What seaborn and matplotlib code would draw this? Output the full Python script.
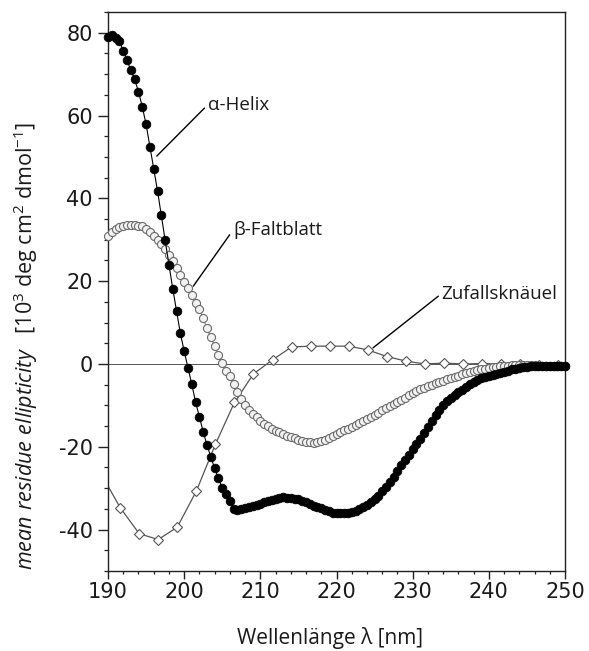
import numpy as np
import pandas as pd
import matplotlib
matplotlib.use("Agg")
import matplotlib.pyplot as plt
from matplotlib.ticker import MultipleLocator
import seaborn as sns

# Wavelength grid of the CD spectra (nm), 0.5 nm steps
wavelength = np.arange(190.0, 250.25, 0.5)

# mean residue ellipticity (10^3 deg cm^2 dmol^-1)
alpha_helix = [
    79.0, 79.4, 78.8, 77.9, 75.6, 73.4, 70.9, 68.7, 65.8, 62.1,
    57.9, 52.5, 47.2, 41.8, 35.9, 29.9, 24.0, 18.2, 12.8, 7.4,
    3.1, -0.9, -4.9, -9.2, -12.8, -16.4, -19.6, -22.4, -25.2, -27.6,
    -29.9, -31.5, -33.1, -35.0, -35.2, -35.0, -34.8, -34.5, -34.3, -34.0,
    -33.8, -33.4, -33.1, -32.8, -32.5, -32.3, -32.2, -32.3, -32.4, -32.5,
    -32.7, -33.0, -33.4, -33.8, -34.2, -34.6, -34.9, -35.3, -35.6, -35.9,
    -36.0, -36.1, -36.0, -35.9, -35.7, -35.4, -35.1, -34.6, -34.0, -33.3,
    -32.6, -31.8, -30.8, -29.7, -28.5, -27.2, -25.8, -24.5, -23.3, -22.0,
    -20.6, -19.4, -18.2, -16.7, -15.2, -13.7, -12.3, -11.0, -9.9, -9.0,
    -8.2, -7.5, -6.8, -6.2, -5.5, -4.9, -4.3, -3.8, -3.4, -3.1,
    -2.8, -2.6, -2.4, -2.2, -1.9, -1.6, -1.3, -1.1, -0.9, -0.8,
    -0.7, -0.6, -0.5, -0.5, -0.5, -0.5, -0.5, -0.5, -0.6, -0.6,
    -0.6,
]

beta_sheet = [
    30.9, 31.9, 32.7, 33.1, 33.3, 33.5, 33.5, 33.5, 33.4, 33.2,
    32.7, 31.8, 30.8, 29.9, 28.9, 27.7, 26.3, 24.8, 23.2, 21.6,
    19.9, 18.4, 16.7, 14.8, 13.2, 11.0, 8.6, 6.4, 4.4, 2.2,
    0.2, -1.6, -3.0, -4.9, -6.8, -8.5, -9.9, -11.0, -12.0, -12.9,
    -13.7, -14.4, -15.0, -15.6, -16.1, -16.5, -16.9, -17.3, -17.7, -18.0,
    -18.3, -18.6, -18.8, -18.9, -19.0, -18.9, -18.7, -18.4, -18.0, -17.5,
    -17.0, -16.5, -16.0, -15.6, -15.2, -14.7, -14.2, -13.8, -13.3, -12.9,
    -12.3, -11.8, -11.2, -10.7, -10.1, -9.6, -9.1, -8.6, -8.1, -7.6,
    -7.1, -6.6, -6.1, -5.7, -5.3, -5.0, -4.6, -4.3, -4.0, -3.7,
    -3.4, -3.1, -2.8, -2.5, -2.2, -1.9, -1.7, -1.5, -1.3, -1.1,
    -0.9, -0.8, -0.7, -0.6, -0.5, -0.4, -0.3, -0.3, -0.3, -0.3,
    -0.3, -0.3, -0.3, -0.4, -0.4, -0.4, -0.4, -0.4, -0.4, -0.4,
    -0.4,
]

# random coil: start of the trace at 190 nm, then the marked points
coil_wavelength = [
    190.0, 191.6, 194.1, 196.6, 199.1, 201.6, 204.1, 206.6, 209.1, 211.6,
    214.1, 216.6, 219.1, 221.6, 224.1, 226.6, 229.1, 231.6, 234.1, 236.6,
    239.1, 241.6, 244.1, 246.6, 249.1,
]
random_coil = [
    -29.5, -34.7, -41.0, -42.4, -39.4, -30.7, -19.4, -9.3, -2.4, 1.0,
    4.1, 4.3, 4.3, 4.3, 3.4, 1.8, 0.7, 0.0, 0.2, 0.0,
    0.1, 0.0, 0.0, -0.2, -0.3,
]

series_labels = ["\u03b1-Helix", "\u03b2-Faltblatt", "Zufallskn\u00e4uel"]
x_ticks = [190, 200, 210, 220, 230, 240, 250]
y_ticks = [-40, -20, 0, 20, 40, 60, 80]

spectra = pd.DataFrame({"wl": wavelength, "helix": alpha_helix, "sheet": beta_sheet})
coil = pd.DataFrame({"wl": coil_wavelength, "coil": random_coil})

sns.set_theme(style="ticks")
plt.rcParams["font.family"] = ["Open Sans", "DejaVu Sans"]
plt.rcParams["mathtext.fontset"] = "custom"
plt.rcParams["mathtext.rm"] = "Open Sans"
plt.rcParams["mathtext.it"] = "Open Sans:italic"

fig = plt.figure(figsize=(5.89, 6.51), dpi=100)
ax = fig.add_axes([108 / 589, 1 - 571 / 651, 457 / 589, 559 / 651])

ax.axhline(0, color="#555555", lw=0.7, zorder=1)

sns.lineplot(data=coil, x="wl", y="coil", ax=ax, estimator=None, sort=False,
             color="#555555", lw=0.9, marker="D", markersize=5.4,
             markerfacecolor="white", markeredgecolor="#555555",
             markeredgewidth=0.8, markevery=list(range(1, len(coil))), zorder=2)
sns.lineplot(data=spectra, x="wl", y="sheet", ax=ax, estimator=None, sort=False,
             color="#808080", lw=0.8, marker="o", markersize=5.8,
             markerfacecolor="#f2f2f2", markeredgecolor="#6a6a6a",
             markeredgewidth=0.8, zorder=3, clip_on=False)
sns.lineplot(data=spectra, x="wl", y="helix", ax=ax, estimator=None, sort=False,
             color="black", lw=0.8, marker="o", markersize=6.3,
             markerfacecolor="black", markeredgecolor="black",
             markeredgewidth=0.5, zorder=4, clip_on=False)

ax.set_xlim(190, 250)
ax.set_ylim(-50, 85)
ax.set_xticks(x_ticks)
ax.set_yticks(y_ticks)
ax.xaxis.set_minor_locator(MultipleLocator(2))
ax.yaxis.set_minor_locator(MultipleLocator(5))
ax.set_xlabel("")
ax.set_ylabel("")

tick_font = dict(family="DejaVu Sans", size=15, color="#1a1a1a")
ax.set_xticklabels([str(t) for t in x_ticks], **tick_font)
ax.set_yticklabels([str(t) for t in y_ticks], **tick_font)
ax.tick_params(axis="x", which="major", direction="out", length=5.5, width=1.0,
               pad=2.5, color="#222222")
ax.tick_params(axis="x", which="minor", direction="out", length=2.5, width=0.9,
               color="#222222")
ax.tick_params(axis="y", which="major", direction="out", length=7.0, width=1.0,
               pad=4.0, color="#222222")
ax.tick_params(axis="y", which="minor", direction="out", length=3.0, width=0.9,
               color="#222222")
for side in ["left", "right", "top", "bottom"]:
    ax.spines[side].set_visible(True)
    ax.spines[side].set_color("#222222")
    ax.spines[side].set_linewidth(1.0)

# leader lines and series names
ann_kw = dict(textcoords="data", ha="left", va="center", fontsize=13.5, color="#1a1a1a",
              arrowprops=dict(arrowstyle="-", color="black", lw=1.0,
                              shrinkA=0, shrinkB=0, relpos=(0, 0.5)))
ax.annotate(series_labels[0], xy=(196.4, 50.2), xytext=(203.1, 62.6), **ann_kw)
ax.annotate(series_labels[1], xy=(201.2, 18.8), xytext=(206.4, 32.3), **ann_kw)
ax.annotate(series_labels[2], xy=(224.8, 3.9), xytext=(233.8, 17.0), **ann_kw)

fig.text(330 / 589, 1 - 638 / 651, "Wellenl\u00e4nge \u03bb [nm]", ha="center",
         va="center", fontsize=15, color="#1a1a1a")
fig.text(26 / 589, 1 - 346 / 651,
         r"$\mathit{mean\ residue\ ellipticity}$   [10$^{3}$ deg cm$^{2}$ dmol$^{-1}$]",
         rotation=90, ha="center", va="center", fontsize=15.5, color="#1a1a1a")

fig.savefig("out.png", dpi=100)
